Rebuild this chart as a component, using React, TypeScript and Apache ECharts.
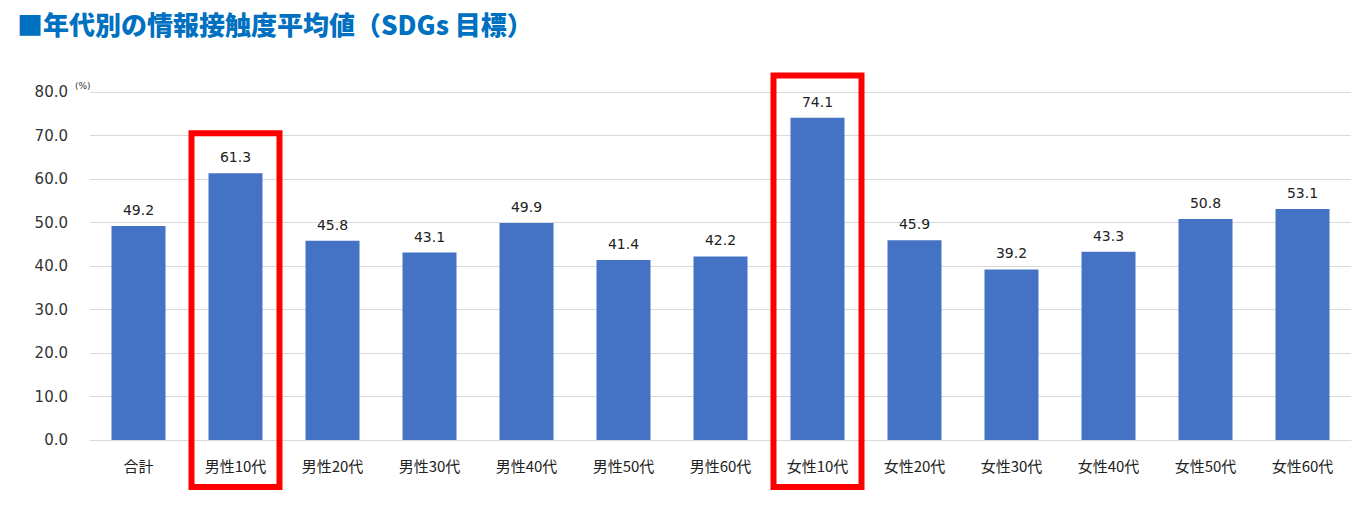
import React, { useEffect, useRef } from "react";
import * as echarts from "echarts";

const categories = ["合計", "男性10代", "男性20代", "男性30代", "男性40代", "男性50代", "男性60代", "女性10代", "女性20代", "女性30代", "女性40代", "女性50代", "女性60代"];
const values = [49.2, 61.3, 45.8, 43.1, 49.9, 41.4, 42.2, 74.1, 45.9, 39.2, 43.3, 50.8, 53.1];
const highlighted = ["男性10代", "女性10代"];
const boxTops = [70.5, 83.8];
const titleText = "■年代別の情報接触度平均値（SDGs 目標）";

export default function App() {
  const ref = useRef<HTMLDivElement>(null);
  useEffect(() => {
    document.body.style.margin = "0";
    const chart = echarts.init(ref.current!, null, { renderer: "svg" });
    const option: any = {
      animation: false,
      backgroundColor: "#ffffff",
      title: {
        text: titleText,
        left: 12,
        top: 5,
        textStyle: { color: "#0070C0", fontSize: 26, fontWeight: 900, fontFamily: "Noto Sans CJK JP" },
      },
      grid: { left: 90, right: 20, top: 92, bottom: 77 },
      xAxis: {
        type: "category",
        data: categories,
        axisTick: { show: false },
        axisLine: { lineStyle: { color: "#d9d9d9" } },
        axisLabel: { color: "#222", fontSize: 15, margin: 18, fontFamily: "Noto Sans CJK JP" },
      },
      yAxis: {
        type: "value",
        min: 0,
        max: 80,
        interval: 10,
        axisLabel: { color: "#333", fontSize: 15, margin: 22, fontFamily: "DejaVu Sans", formatter: (v: number) => v.toFixed(1) },
        splitLine: { lineStyle: { color: "#d9d9d9" } },
      },
      series: [
        {
          type: "bar",
          data: values,
          barWidth: 54,
          itemStyle: { color: "#4472C4" },
          label: {
            show: true,
            position: "top",
            distance: 9,
            color: "#222",
            fontSize: 14,
            fontFamily: "DejaVu Sans",
            formatter: (p: any) => Number(p.value).toFixed(1),
          },
        },
      ],
    };
    chart.setOption(option);
    const yBottom = chart.convertToPixel({ yAxisIndex: 0 }, 0) as number;
    const y80 = chart.convertToPixel({ yAxisIndex: 0 }, 80) as number;
    const graphics: any[] = [
      {
        type: "text",
        left: 75,
        top: y80 - 11,
        style: { text: "(%)", fontSize: 9, fill: "#333", fontFamily: "DejaVu Sans" },
      },
    ];
    highlighted.forEach((c, i) => {
      const cx = chart.convertToPixel({ xAxisIndex: 0 }, c) as number;
      const top = chart.convertToPixel({ yAxisIndex: 0 }, boxTops[i]) as number;
      graphics.push({
        type: "rect",
        shape: { x: cx - 44, y: top, width: 88, height: yBottom + 47 - top },
        style: { fill: "none", stroke: "#FF0000", lineWidth: 6 },
        z: 10,
      });
    });
    chart.setOption({ graphic: graphics });
    return () => chart.dispose();
  }, []);
  return <div ref={ref} style={{ width: 1371, height: 517 }} />;
}
